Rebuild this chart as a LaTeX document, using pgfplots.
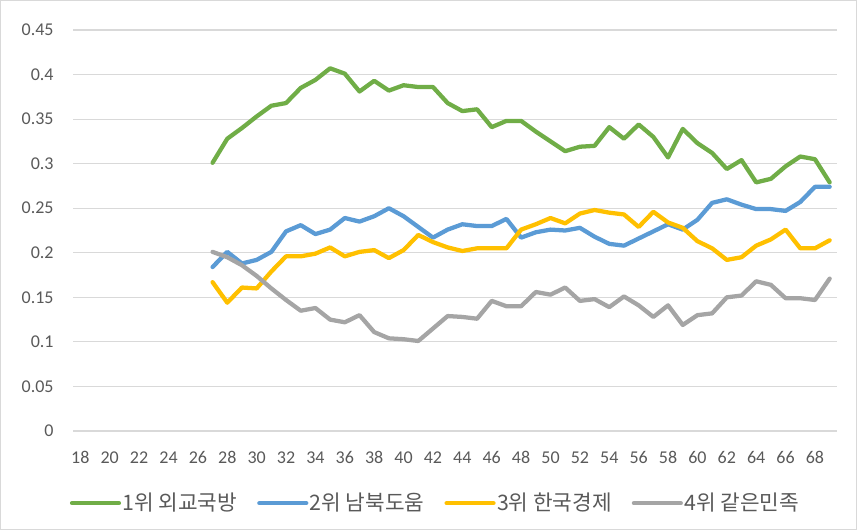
\documentclass[border=0pt]{standalone}
\usepackage{fontspec}
\usepackage{pgfplots}
\pgfplotsset{compat=1.18}
\setmainfont{Carlito}
\newfontfamily\kr{Noto Sans CJK KR}
\definecolor{cgreen}{HTML}{70AD47}
\definecolor{cblue}{HTML}{5B9BD5}
\definecolor{cyellow}{HTML}{FFC000}
\definecolor{cgray}{HTML}{A5A5A5}
\definecolor{textgray}{HTML}{595959}
\definecolor{gridgray}{HTML}{D9D9D9}
\begin{document}
\begin{tikzpicture}
\begin{axis}[
  scale only axis,
  width=573pt, height=300.75pt,
  xmin=17.5, xmax=69.5,
  ymin=0, ymax=0.45,
  xtick={18,20,...,68},
  ytick={0,0.05,...,0.46},
  yticklabels={0,0.05,0.1,0.15,0.2,0.25,0.3,0.35,0.4,0.45},
  axis line style={draw=none},
  major tick length=0pt,
  ymajorgrids,
  major grid style={gridgray, line width=0.8pt},
  tick label style={font=\fontsize{13.5}{15}\selectfont, text=textgray},
  /pgf/number format/assume math mode=true,
  xticklabel style={anchor=center, yshift=-20pt},
  yticklabel style={anchor=east, xshift=-11pt},
  legend columns=4,
  legend style={draw=none, fill=none, at={(0.474,-0.18)}, anchor=center,
    font=\kr\fontsize{16}{18}\selectfont, text=textgray,
    /tikz/every even column/.append style={column sep=14pt},
    nodes={inner xsep=1pt}},
  legend image code/.code={\draw[#1, line width=3.4pt] (0pt,0pt) -- (35pt,0pt);},
  every axis plot/.append style={line width=3.2pt, line join=round, line cap=round, mark=none},
]
\addplot[cgreen] coordinates {
(27,0.301)(28,0.328)(29,0.340)(30,0.353)(31,0.365)(32,0.368)(33,0.385)(34,0.394)(35,0.407)(36,0.401)
(37,0.381)(38,0.393)(39,0.382)(40,0.388)(41,0.386)(42,0.386)(43,0.368)(44,0.359)(45,0.361)(46,0.341)
(47,0.348)(48,0.348)(49,0.336)(50,0.325)(51,0.314)(52,0.319)(53,0.320)(54,0.341)(55,0.328)(56,0.344)
(57,0.330)(58,0.307)(59,0.339)(60,0.323)(61,0.312)(62,0.294)(63,0.304)(64,0.279)(65,0.283)(66,0.297)
(67,0.308)(68,0.305)(69,0.279)};
\addlegendentry{1위 외교국방}
\addplot[cblue] coordinates {
(27,0.184)(28,0.201)(29,0.188)(30,0.192)(31,0.201)(32,0.224)(33,0.231)(34,0.221)(35,0.226)(36,0.239)
(37,0.235)(38,0.241)(39,0.250)(40,0.241)(41,0.229)(42,0.217)(43,0.226)(44,0.232)(45,0.230)(46,0.230)
(47,0.238)(48,0.217)(49,0.223)(50,0.226)(51,0.225)(52,0.228)(53,0.218)(54,0.210)(55,0.208)(56,0.216)
(57,0.224)(58,0.232)(59,0.226)(60,0.237)(61,0.256)(62,0.260)(63,0.254)(64,0.249)(65,0.249)(66,0.247)
(67,0.257)(68,0.274)(69,0.274)};
\addlegendentry{2위 남북도움}
\addplot[cyellow] coordinates {
(27,0.167)(28,0.144)(29,0.161)(30,0.160)(31,0.179)(32,0.196)(33,0.196)(34,0.199)(35,0.206)(36,0.196)
(37,0.201)(38,0.203)(39,0.194)(40,0.203)(41,0.220)(42,0.212)(43,0.206)(44,0.202)(45,0.205)(46,0.205)
(47,0.205)(48,0.226)(49,0.232)(50,0.239)(51,0.233)(52,0.244)(53,0.248)(54,0.245)(55,0.243)(56,0.229)
(57,0.246)(58,0.234)(59,0.228)(60,0.213)(61,0.205)(62,0.192)(63,0.195)(64,0.208)(65,0.215)(66,0.226)
(67,0.205)(68,0.205)(69,0.214)};
\addlegendentry{3위 한국경제}
\addplot[cgray] coordinates {
(27,0.201)(28,0.195)(29,0.186)(30,0.174)(31,0.160)(32,0.147)(33,0.135)(34,0.138)(35,0.125)(36,0.122)
(37,0.130)(38,0.111)(39,0.104)(40,0.103)(41,0.101)(42,0.115)(43,0.129)(44,0.128)(45,0.126)(46,0.146)
(47,0.140)(48,0.140)(49,0.156)(50,0.153)(51,0.161)(52,0.146)(53,0.148)(54,0.139)(55,0.151)(56,0.141)
(57,0.128)(58,0.141)(59,0.119)(60,0.130)(61,0.132)(62,0.150)(63,0.152)(64,0.168)(65,0.164)(66,0.149)
(67,0.149)(68,0.147)(69,0.171)};
\addlegendentry{4위 같은민족}
\end{axis}
\pgfresetboundingbox
\path ([shift={(-54.75pt,-74.25pt)}]current axis.south west) coordinate (BL)
      ([shift={(15pt,22.5pt)}]current axis.north east) coordinate (TR);
\path[use as bounding box] (BL) rectangle (TR);
\draw[gridgray, line width=0.8pt] ([shift={(0.5pt,0.5pt)}]BL) rectangle ([shift={(-0.5pt,-0.5pt)}]TR);
\end{tikzpicture}
\end{document}
